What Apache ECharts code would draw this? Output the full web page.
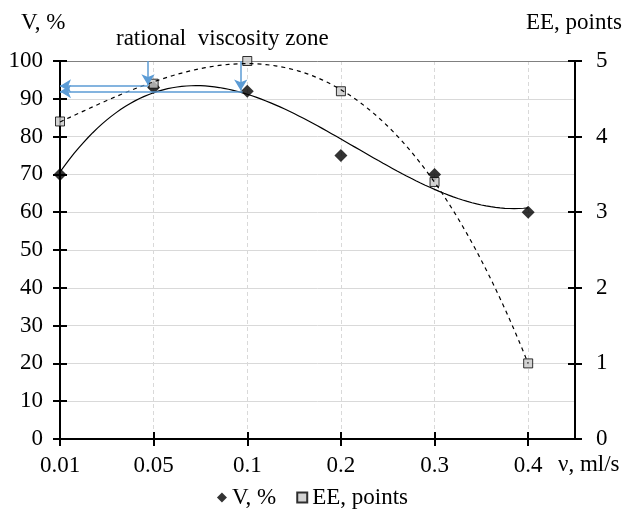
<!DOCTYPE html>
<html>
<head>
<meta charset="utf-8">
<script src="https://cdn.jsdelivr.net/npm/echarts@6/dist/echarts.min.js"></script>
<style>
  html, body { margin: 0; padding: 0; background: #fff; }
  #chart { width: 625px; height: 510px; }
</style>
</head>
<body>
<div id="chart"></div>
<script>
// Flow rate categories and measured values
const categories = ['0.01', '0.05', '0.1', '0.2', '0.3', '0.4'];
const vValues = [70, 93, 92, 75, 70, 60];        // V, %
const eeValues = [4.2, 4.7, 5.0, 4.6, 3.4, 1.0]; // EE, points

// Rational viscosity zone pointers: [category position, value(s)]
const zoneDrops = [[0.94, 100, 93.6], [1.93, 100, 92.2]];
const zoneLeads = [[0.94, 93.4], [1.95, 91.9]];

const FONT = 'Liberation Serif';
const FS = 23;

// Cubic least-squares trend through the points (position = category index)
function polyFit(ys, degree) {
  const n = degree + 1;
  const A = [];
  for (let r = 0; r < n; r++) A.push(new Array(n + 1).fill(0));
  ys.forEach((y, x) => {
    for (let r = 0; r < n; r++) {
      for (let c = 0; c < n; c++) A[r][c] += Math.pow(x, r + c);
      A[r][n] += y * Math.pow(x, r);
    }
  });
  for (let i = 0; i < n; i++) {
    let p = i;
    for (let k = i + 1; k < n; k++) if (Math.abs(A[k][i]) > Math.abs(A[p][i])) p = k;
    [A[i], A[p]] = [A[p], A[i]];
    for (let k = i + 1; k < n; k++) {
      const f = A[k][i] / A[i][i];
      for (let c = i; c <= n; c++) A[k][c] -= f * A[i][c];
    }
  }
  const coef = new Array(n).fill(0);
  for (let i = n - 1; i >= 0; i--) {
    let s = A[i][n];
    for (let c = i + 1; c < n; c++) s -= A[i][c] * coef[c];
    coef[i] = s / A[i][i];
  }
  return coef;
}
function trendPoints(ys) {
  const coef = polyFit(ys, 3);
  const pts = [];
  for (let i = 0; i <= 100; i++) {
    const x = (ys.length - 1) * i / 100;
    let y = 0;
    coef.forEach((c, k) => { y += c * Math.pow(x, k); });
    pts.push([x, y]);
  }
  return pts;
}

const positions = categories.map((c, i) => i);
const xMax = categories.length - 0.5;
const labelStyle = { fontFamily: FONT, fontSize: FS, color: '#000' };
const textFont = FS + 'px "' + FONT + '"';

const baseX = { type: 'value', min: 0, max: xMax, interval: 1 };
const baseLeft = { type: 'value', min: 0, max: 100, interval: 10 };
const baseRight = { type: 'value', min: 0, max: 5, interval: 1 };
const tickStyle = { color: '#000', width: 2 };

const arrowLines = [];
zoneDrops.forEach(d => arrowLines.push([{ coord: [d[0], d[1]] }, { coord: [d[0], d[2]] }]));
zoneLeads.forEach(d => arrowLines.push([{ coord: [d[0], d[1]] }, { coord: [0, d[1]] }]));

const chart = echarts.init(document.getElementById('chart'), null, { renderer: 'canvas' });
chart.setOption({
  animation: false,
  backgroundColor: '#fff',
  textStyle: { fontFamily: FONT },
  grid: { left: 60, right: 50, top: 61, bottom: 71 },
  legend: {
    bottom: 1,
    left: 'center',
    padding: [5, 5, 0, 5],
    data: ['V, %', 'EE, points'],
    itemWidth: 10,
    itemHeight: 10,
    itemGap: 20,
    textStyle: labelStyle
  },
  graphic: [
    { type: 'text', left: 21, top: 11, style: { text: 'V, %', font: textFont, fill: '#000' } },
    { type: 'text', left: 526, top: 11, style: { text: 'EE, points', font: textFont, fill: '#000' } },
    { type: 'text', left: 116, top: 27, style: { text: 'rational  viscosity zone', font: textFont, fill: '#000' } },
    { type: 'text', left: 558, top: 453, style: { text: 'ν, ml/s', font: textFont, fill: '#000' } }
  ],
  xAxis: [
    Object.assign({}, baseX, {
      position: 'bottom',
      axisLine: { onZero: false, lineStyle: { color: '#000', width: 2 } },
      axisTick: { show: true, length: 7, inside: false, customValues: positions, lineStyle: tickStyle },
      axisLabel: Object.assign({}, labelStyle, {
        margin: 15,
        customValues: positions,
        formatter: v => categories[Math.round(v)]
      }),
      splitLine: { show: true, lineStyle: { color: '#d9d9d9', type: [4, 3], width: 1 } }
    }),
    // inner half of the crossing ticks
    Object.assign({}, baseX, {
      position: 'bottom',
      axisLine: { show: false, onZero: false },
      axisTick: { show: true, length: 7, inside: true, customValues: positions, lineStyle: tickStyle },
      axisLabel: { show: false },
      splitLine: { show: false }
    }),
    // plot-area top border
    Object.assign({}, baseX, {
      position: 'top',
      axisLine: { show: true, onZero: false, lineStyle: { color: '#808080', width: 1 } },
      axisTick: { show: false },
      axisLabel: { show: false },
      splitLine: { show: false }
    })
  ],
  yAxis: [
    Object.assign({}, baseLeft, {
      position: 'left',
      axisLine: { show: true, onZero: false, lineStyle: { color: '#000', width: 2 } },
      axisTick: { show: true, length: 7, inside: false, lineStyle: tickStyle },
      axisLabel: Object.assign({}, labelStyle, { margin: 17 }),
      splitLine: { show: true, lineStyle: { color: '#d9d9d9', width: 1 } }
    }),
    Object.assign({}, baseRight, {
      position: 'right',
      axisLine: { show: true, onZero: false, lineStyle: { color: '#000', width: 2 } },
      axisTick: { show: true, length: 7, inside: false, lineStyle: tickStyle },
      axisLabel: Object.assign({}, labelStyle, { margin: 21 }),
      splitLine: { show: false }
    }),
    Object.assign({}, baseLeft, {
      position: 'left',
      axisLine: { show: false, onZero: false },
      axisTick: { show: true, length: 7, inside: true, lineStyle: tickStyle },
      axisLabel: { show: false },
      splitLine: { show: false }
    }),
    Object.assign({}, baseRight, {
      position: 'right',
      axisLine: { show: false, onZero: false },
      axisTick: { show: true, length: 7, inside: true, lineStyle: tickStyle },
      axisLabel: { show: false },
      splitLine: { show: false }
    })
  ],
  series: [
    {
      name: 'zone',
      type: 'line',
      xAxisIndex: 0,
      yAxisIndex: 0,
      data: [],
      silent: true,
      markLine: {
        silent: true,
        symbol: ['none', 'arrow'],
        symbolSize: [10, 11],
        label: { show: false },
        lineStyle: { color: '#5b9bd5', width: 1.5, type: 'solid' },
        data: arrowLines
      }
    },
    {
      name: 'V trend',
      type: 'line',
      xAxisIndex: 0,
      yAxisIndex: 0,
      showSymbol: false,
      silent: true,
      lineStyle: { color: '#000', width: 1.2 },
      data: trendPoints(vValues)
    },
    {
      name: 'EE trend',
      type: 'line',
      xAxisIndex: 0,
      yAxisIndex: 1,
      showSymbol: false,
      silent: true,
      lineStyle: { color: '#000', width: 1.2, type: [4, 4] },
      data: trendPoints(eeValues)
    },
    {
      name: 'V, %',
      type: 'scatter',
      xAxisIndex: 0,
      yAxisIndex: 0,
      symbol: 'diamond',
      symbolSize: 13,
      itemStyle: { color: '#000' },
      data: vValues.map((v, i) => [i, v])
    },
    {
      name: 'EE, points',
      type: 'scatter',
      xAxisIndex: 0,
      yAxisIndex: 1,
      symbol: 'rect',
      symbolSize: 9,
      itemStyle: { color: '#c8c8c8', borderColor: '#000', borderWidth: 1 },
      data: eeValues.map((v, i) => [i, v])
    }
  ]
});
</script>
</body>
</html>
